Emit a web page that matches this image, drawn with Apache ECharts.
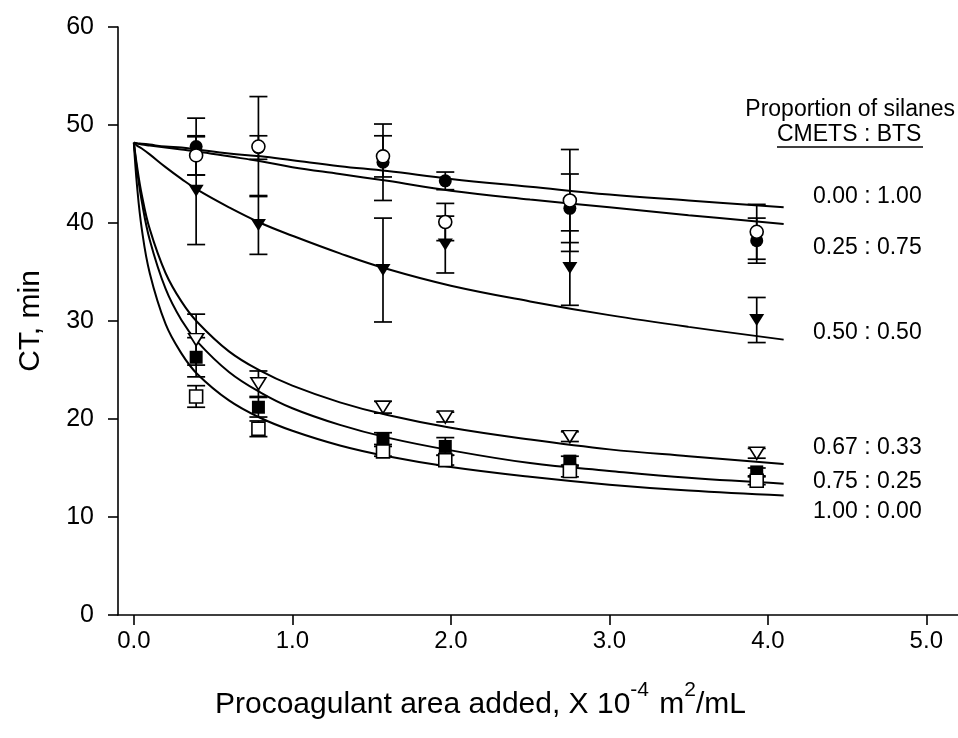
<!DOCTYPE html>
<html>
<head>
<meta charset="utf-8">
<script src="https://cdn.jsdelivr.net/npm/echarts@6/dist/echarts.min.js"></script>
<style>
  html, body { margin: 0; padding: 0; background: #fff; }
  #chart { width: 958px; height: 738px; }
</style>
</head>
<body>
<div id="chart"></div>
<script>
// procoagulant area (x 10^-4 m2/mL) where CT was measured
const areaX = [0.393, 0.786, 1.572, 1.965, 2.751, 3.93];

// measured CT (min) and error bars, one pair per silane ratio
const ct000 = [47.8, 47.7, 46.2, 44.3, 41.5, 38.2];
const err000 = [2.9, 1.2, 3.9, 0.9, 3.5, 2.3];
const ct025 = [46.9, 47.8, 46.8, 40.1, 42.3, 39.1];
const err025 = [2.0, 5.1, 2.1, 1.9, 5.2, 2.8];
const ct050 = [43.3, 39.8, 35.2, 37.8, 35.4, 30.1];
const err050 = [5.5, 3.0, 5.3, 2.9, 3.8, 2.3];
const ct067 = [28.1, 23.6, 21.2, 20.2, 18.2, 16.5];
const err067 = [2.6, 1.3, 0.6, 0.5, 0.5, 0.5];
const ct075 = [26.3, 21.2, 18.0, 17.2, 15.7, 14.6];
const err075 = [2.0, 1.0, 0.6, 0.9, 0.5, 0.4];
const ct100 = [22.3, 19.0, 16.7, 15.8, 14.7, 13.7];
const err100 = [1.1, 0.8, 0.5, 0.5, 0.6, 0.4];

// fitted curves
const fitX = [0, 0.02, 0.05, 0.1, 0.2, 0.3, 0.4, 0.6, 0.8, 1.0, 1.3, 1.6, 2.0, 2.5, 3.0, 3.5, 4.1];
const fit000 = [48.2, 48.15, 48.1, 48.0, 47.8, 47.7, 47.5, 47.1, 46.8, 46.4, 45.8, 45.3, 44.5, 43.7, 42.9, 42.3, 41.6];
const fit025 = [48.2, 48.1, 48.0, 47.9, 47.7, 47.5, 47.3, 46.8, 46.3, 45.7, 45.0, 44.3, 43.3, 42.4, 41.6, 40.8, 39.9];
const fit050 = [48.2, 47.9, 47.6, 47.0, 45.7, 44.5, 43.4, 41.6, 40.0, 38.7, 36.9, 35.3, 33.6, 32.0, 30.6, 29.4, 28.1];
const fit067 = [48.2, 45.8, 42.9, 39.4, 34.9, 32.0, 29.9, 26.9, 24.9, 23.4, 21.7, 20.4, 19.1, 17.9, 16.9, 16.2, 15.4];
const fit075 = [48.2, 45.4, 42.2, 38.3, 33.3, 30.1, 27.9, 24.8, 22.7, 21.1, 19.4, 18.1, 16.8, 15.5, 14.7, 14.0, 13.4];
const fit100 = [48.2, 43.8, 39.4, 34.9, 29.7, 26.7, 24.6, 21.9, 20.1, 18.8, 17.3, 16.2, 15.1, 14.1, 13.3, 12.7, 12.2];

// ratio labels and where they sit (CT value at right of the curves)
const ratioLabels = ['0.00 : 1.00', '0.25 : 0.75', '0.50 : 0.50', '0.67 : 0.33', '0.75 : 0.25', '1.00 : 0.00'];
const ratioLabelY = [42.7, 37.5, 28.8, 17.1, 13.6, 10.5];

const xTicks = [0, 1, 2, 3, 4, 5];

const chart = echarts.init(document.getElementById('chart'));

const zip = (xs, ys) => xs.map((x, i) => [x, ys[i]]);
const zip3 = (xs, ys, es) => xs.map((x, i) => [x, ys[i], es[i]]);

// error bar drawn through the axes
const errorBars = (ys, es) => ({
  type: 'custom',
  z: 3,
  data: zip3(areaX, ys, es),
  renderItem: (params, api) => {
    const x = api.value(0);
    const y = api.value(1);
    const e = api.value(2);
    const top = api.coord([x, y + e]);
    const bot = api.coord([x, y - e]);
    const w = 9;
    const style = { stroke: '#000', lineWidth: 1.7 };
    return {
      type: 'group',
      children: [
        { type: 'line', shape: { x1: top[0], y1: top[1], x2: bot[0], y2: bot[1] }, style },
        { type: 'line', shape: { x1: top[0] - w, y1: top[1], x2: top[0] + w, y2: top[1] }, style },
        { type: 'line', shape: { x1: bot[0] - w, y1: bot[1], x2: bot[0] + w, y2: bot[1] }, style },
      ],
    };
  },
});

const fitLine = (ys) => ({
  type: 'line',
  z: 4,
  data: zip(fitX, ys),
  smooth: 0.4,
  showSymbol: false,
  lineStyle: { color: '#000', width: 2 },
});

const points = (ys, symbol, filled, size, rotate) => ({
  type: 'scatter',
  z: 5,
  data: zip(areaX, ys),
  symbol,
  symbolSize: size,
  symbolRotate: rotate || 0,
  itemStyle: filled
    ? { color: '#000', opacity: 1 }
    : { color: '#fff', borderColor: '#000', borderWidth: 1.6, opacity: 1 },
});

const option = {
  animation: false,
  backgroundColor: '#fff',
  grid: { left: 118, right: 0, top: 27, bottom: 123, containLabel: false, outerBoundsMode: 'none' },
  xAxis: {
    type: 'value',
    min: -0.1,
    max: 5.2,
    splitLine: { show: false },
    axisLine: { onZero: false, lineStyle: { color: '#000', width: 1.6 } },
    axisTick: { customValues: xTicks, length: 10, inside: false, lineStyle: { color: '#000', width: 1.6 } },
    axisLabel: {
      customValues: xTicks,
      formatter: (v) => v.toFixed(1),
      color: '#000',
      fontFamily: 'Arial, "Liberation Sans", sans-serif',
      fontSize: 24,
      margin: 14,
    },
  },
  yAxis: {
    type: 'value',
    min: 0,
    max: 60,
    interval: 10,
    name: 'CT, min',
    nameLocation: 'middle',
    nameGap: 72,
    nameTextStyle: { color: '#000', fontFamily: 'Arial, "Liberation Sans", sans-serif', fontSize: 30 },
    splitLine: { show: false },
    axisLine: { onZero: false, lineStyle: { color: '#000', width: 1.6 } },
    axisTick: { length: 10, lineStyle: { color: '#000', width: 1.6 } },
    axisLabel: {
      color: '#000',
      fontFamily: 'Arial, "Liberation Sans", sans-serif',
      fontSize: 25,
      margin: 24,
    },
  },
  graphic: [
    {
      type: 'text',
      left: 480 - 265,
      top: 680,
      style: {
        text: '{a|Procoagulant area added, X 10}{s|-4}{b| m}{s|2}{a|/mL}',
        rich: {
          a: { fontSize: 30, fontFamily: 'Arial, "Liberation Sans", sans-serif', fill: '#000', verticalAlign: 'bottom', lineHeight: 40 },
          b: { fontSize: 30, fontFamily: 'Arial, "Liberation Sans", sans-serif', fill: '#000', verticalAlign: 'bottom', lineHeight: 40, padding: [0, 0, 0, 2] },
          s: { fontSize: 21, fontFamily: 'Arial, "Liberation Sans", sans-serif', fill: '#000', verticalAlign: 'top', lineHeight: 40 },
        },
      },
    },
    {
      type: 'text',
      right: 3,
      top: 98,
      style: { text: 'Proportion of silanes', fontSize: 23, fontFamily: 'Arial, "Liberation Sans", sans-serif', fill: '#000' },
    },
    {
      type: 'text',
      left: 777,
      top: 123,
      style: { text: 'CMETS : BTS', fontSize: 23, fontFamily: 'Arial, "Liberation Sans", sans-serif', fill: '#000' },
    },
    {
      type: 'line',
      shape: { x1: 777, y1: 147, x2: 923, y2: 147 },
      style: { stroke: '#000', lineWidth: 1.6 },
    },
  ],
  series: [
    errorBars(ct000, err000),
    errorBars(ct025, err025),
    errorBars(ct050, err050),
    errorBars(ct067, err067),
    errorBars(ct075, err075),
    errorBars(ct100, err100),
    fitLine(fit000),
    fitLine(fit025),
    fitLine(fit050),
    fitLine(fit067),
    fitLine(fit075),
    fitLine(fit100),
    points(ct000, 'circle', true, 13),
    points(ct025, 'circle', false, 13),
    points(ct050, 'triangle', true, [15, 12], 180),
    points(ct067, 'triangle', false, [15, 12], 180),
    points(ct075, 'rect', true, 13),
    points(ct100, 'rect', false, 13),
  ],
};

chart.setOption(option);

// ratio labels placed beside the curve ends, using the chart's own y scale
const labelGraphics = ratioLabels.map((t, i) => {
  const p = chart.convertToPixel({ gridIndex: 0 }, [4.5, ratioLabelY[i]]);
  return {
    type: 'text',
    x: 813,
    y: p[1],
    style: {
      text: t,
      fontSize: 23,
      fontFamily: 'Arial, "Liberation Sans", sans-serif',
      fill: '#000',
      verticalAlign: 'middle',
    },
  };
});
chart.setOption({ graphic: option.graphic.concat(labelGraphics) });
</script>
</body>
</html>
